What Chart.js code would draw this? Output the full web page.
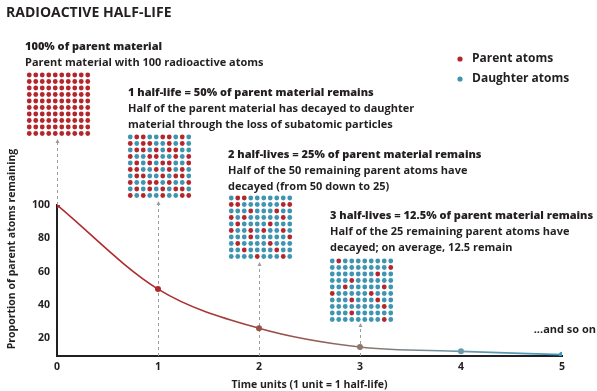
<!DOCTYPE html>
<html>
<head>
<meta charset="utf-8">
<script src="https://cdn.jsdelivr.net/npm/chart.js@4"></script>
<style>
  html, body { margin: 0; padding: 0; background: #fff; }
  #wrap { width: 597px; height: 391px; position: relative; }
</style>
</head>
<body>
<div id="wrap"><canvas id="chart"></canvas></div>
<script>
// Chart data
const halfLives = [0, 1, 2, 3, 4, 5];
const parentRemaining = [100, 49.5, 26, 14.7, 12.1, 10.1];
const yTickValues = [20, 40, 60, 80, 100];
const pointColors = ['#b3262c', '#b3262c', '#9a4f48', '#8b7670', '#6a9aab', '#3f9ac0'];

// Atom grids shown above the first four half-lives (r = parent, b = daughter)
const atomGrids = [
    ['rrrrrrrrrr', 'rrrrrrrrrr', 'rrrrrrrrrr', 'rrrrrrrrrr', 'rrrrrrrrrr',
     'rrrrrrrrrr', 'rrrrrrrrrr', 'rrrrrrrrrr', 'rrrrrrrrrr', 'rrrrrrrrrr'],
    ['brrbbrrbrb', 'rbrrbbrbrb', 'brrbrbrrbb', 'rbbrrbbrbr', 'brbrbrrbbr',
     'rrbbrbrbrb', 'brrbbrbrrb', 'rbbrrbrbbr', 'brbrbrbrrb', 'rbrbbrbbrr'],
    ['brrbbbbbbb', 'rrbbbbbbrr', 'bbbrbbbrbb', 'rbrbbbbbrb', 'brbbbbrbbb',
     'rbbrbrbbrb', 'bbbrbbbbbr', 'brbbbbrbbb', 'bbrbbbbrbb', 'bbbbrbbbrb'],
    ['brbbbbbbbb', 'bbbbbbbbbr', 'bbbbbbbrbb', 'bbbrbbbbbb', 'bbrbbbbbrb',
     'rbbbbbrbbb', 'bbbrbbbrbb', 'bbbbbbbbrb', 'bbbrbbbbbb', 'bbbbbbbbrb']
];

const headings = [
    '100% of parent material',
    '1 half-life = 50% of parent material remains',
    '2 half-lives = 25% of parent material remains',
    '3 half-lives = 12.5% of parent material remains'
];
const descriptions = [
    ['Parent material with 100 radioactive atoms'],
    ['Half of the parent material has decayed to daughter', 'material through the loss of subatomic particles'],
    ['Half of the 50 remaining parent atoms have', 'decayed (from 50 down to 25)'],
    ['Half of the 25 remaining parent atoms have', 'decayed; on average, 12.5 remain']
];
const legendLabels = ['Parent atoms', 'Daughter atoms'];

// Layout (pixels)
const RED = '#b3262c';
const BLUE = '#3f95b1';
const INK = '#231f20';
const FONT = '"Open Sans"';
const blockPos = [[25, 47], [128, 93], [228, 155], [330, 216]];
const gridTops = [75, 137, 198, 261];
const dashTops = [139, 201, 262, 323];
const dotStep = 6.5;
const dotRadius = 2.4;

const annotationsPlugin = {
    id: 'annotations',
    beforeDatasetsDraw(chart) {
        const { ctx, scales: { x, y }, chartArea } = chart;
        ctx.save();

        // dashed leader lines with small arrowheads
        ctx.strokeStyle = '#9c9c9c';
        ctx.fillStyle = '#9c9c9c';
        ctx.lineWidth = 1;
        for (let i = 0; i < atomGrids.length; i++) {
            const px = Math.round(x.getPixelForValue(halfLives[i])) + 0.5;
            const bottom = i === 0 ? y.getPixelForValue(parentRemaining[0]) : chartArea.bottom;
            ctx.setLineDash([3, 3]);
            ctx.beginPath();
            ctx.moveTo(px, bottom);
            ctx.lineTo(px, dashTops[i] + 3);
            ctx.stroke();
            ctx.setLineDash([]);
            ctx.beginPath();
            ctx.moveTo(px, dashTops[i]);
            ctx.lineTo(px - 2, dashTops[i] + 4);
            ctx.lineTo(px + 2, dashTops[i] + 4);
            ctx.closePath();
            ctx.fill();
        }

        // atom grids
        atomGrids.forEach((grid, i) => {
            const cx = x.getPixelForValue(halfLives[i]) + 1.5;
            const left = cx - dotStep * 4.5;
            grid.forEach((row, r) => {
                for (let c = 0; c < row.length; c++) {
                    ctx.fillStyle = row[c] === 'r' ? RED : BLUE;
                    ctx.beginPath();
                    ctx.arc(left + c * dotStep, gridTops[i] + r * dotStep, dotRadius, 0, Math.PI * 2);
                    ctx.fill();
                }
            });
        });

        // text blocks
        ctx.fillStyle = INK;
        ctx.textBaseline = 'middle';
        ctx.textAlign = 'left';
        headings.forEach((h, i) => {
            const [bx, by] = blockPos[i];
            ctx.font = `800 11px ${FONT}`;
            ctx.fillText(h, bx, by);
            ctx.font = `700 11px ${FONT}`;
            descriptions[i].forEach((line, j) => {
                ctx.fillText(line, bx, by + (j + 1) * 16);
            });
        });

        // title
        ctx.font = `700 14px ${FONT}`;
        ctx.fillText('RADIOACTIVE HALF-LIFE', 6, 13);

        // legend
        ctx.font = `700 12px ${FONT}`;
        legendLabels.forEach((label, i) => {
            const ly = 59 + i * 20;
            ctx.fillStyle = i === 0 ? RED : BLUE;
            ctx.beginPath();
            ctx.arc(460, ly, 2.6, 0, Math.PI * 2);
            ctx.fill();
            ctx.fillStyle = INK;
            ctx.fillText(label, 472, ly);
        });

        // trailing note
        ctx.font = `700 11px ${FONT}`;
        ctx.textAlign = 'right';
        ctx.fillText('...and so on', 596, 330);

        // y axis title
        ctx.translate(12, 249);
        ctx.rotate(-Math.PI / 2);
        ctx.textAlign = 'center';
        ctx.font = `700 10.5px ${FONT}`;
        ctx.fillText('Proportion of parent atoms remaining', 0, 0);

        ctx.restore();
    }
};

const lineGradient = (context) => {
    const { chart } = context;
    const area = chart.chartArea;
    if (!area) return RED;
    const g = chart.ctx.createLinearGradient(area.left, 0, area.right, 0);
    g.addColorStop(0, '#b3262c');
    g.addColorStop(0.25, '#aa302d');
    g.addColorStop(0.45, '#9a4f48');
    g.addColorStop(0.62, '#8b7670');
    g.addColorStop(0.8, '#6a98a9');
    g.addColorStop(1, '#3f9ac0');
    return g;
};

new Chart(document.getElementById('chart'), {
    type: 'line',
    data: {
        datasets: [{
            data: halfLives.map((h, i) => ({ x: h, y: parentRemaining[i] })),
            borderColor: lineGradient,
            borderWidth: 1.6,
            cubicInterpolationMode: 'monotone',
            pointRadius: 3,
            pointBorderWidth: 0,
            pointBackgroundColor: pointColors,
            fill: false
        }]
    },
    options: {
        responsive: true,
        maintainAspectRatio: false,
        animation: false,
        layout: { padding: { top: 205, right: 35, left: 0, bottom: 0 } },
        plugins: {
            legend: { display: false },
            tooltip: { enabled: false }
        },
        scales: {
            x: {
                type: 'linear',
                min: 0,
                max: 5,
                grid: { display: false, drawTicks: false },
                border: { color: INK, width: 2 },
                ticks: {
                    stepSize: 1,
                    padding: 5,
                    color: INK,
                    font: { family: 'Open Sans', weight: 'bold', size: 10.5 }
                },
                title: {
                    display: true,
                    text: 'Time units (1 unit = 1 half-life)',
                    color: INK,
                    font: { family: 'Open Sans', weight: 'bold', size: 10.5 },
                    padding: { top: 6, bottom: 0 }
                },
                afterFit(scale) { scale.height = 35; }
            },
            y: {
                min: 9.3,
                max: 100,
                grid: { display: false, drawTicks: false },
                border: { color: INK, width: 2 },
                afterBuildTicks(scale) {
                    scale.ticks = yTickValues.map(v => ({ value: v }));
                },
                ticks: {
                    padding: 7,
                    color: INK,
                    font: { family: 'Open Sans', weight: 'bold', size: 10.5 }
                },
                afterFit(scale) { scale.width = 57; }
            }
        }
    },
    plugins: [annotationsPlugin]
});
</script>
</body>
</html>
